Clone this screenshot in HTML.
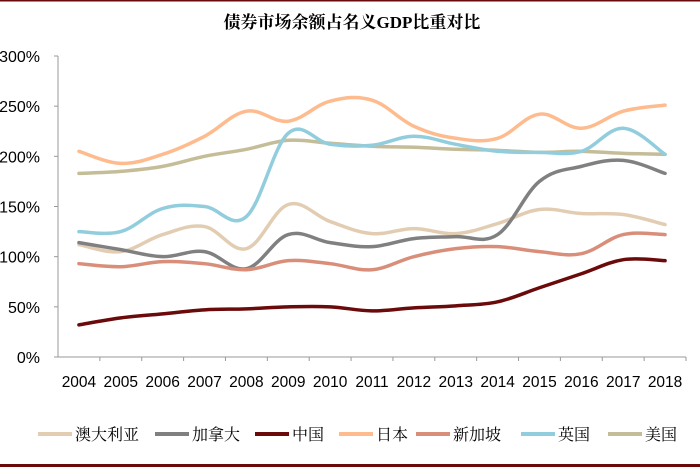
<!DOCTYPE html>
<html><head><meta charset="utf-8"><style>
body{margin:0;background:#fff;}
svg{display:block;}
text{font-family:"Liberation Sans","Noto Sans CJK SC",sans-serif;}
</style></head><body>
<svg id="chart" width="700" height="471">
<rect x="0" y="0" width="700" height="1.5" fill="#6b0a0a"/>
<rect x="0" y="464" width="700" height="3" fill="#6b0a0a"/>
<text x="352" y="28" text-anchor="middle" font-size="17" font-weight="bold" style="font-family:'Liberation Serif','Noto Serif CJK SC',serif">债券市场余额占名义GDP比重对比</text>
<g id="axes"></g><g id="series"></g><g id="legend"></g>
</svg>
<script>
const years=['2004','2005','2006','2007','2008','2009','2010','2011','2012','2013','2014','2015','2016','2017','2018'];
const yTicks=[0,50,100,150,200,250,300];
const names=['澳大利亚','加拿大','中国','日本','新加坡','英国','美国'];
const colors=['#e2cdb3','#808080','#6b0a0a','#fdbb8e','#d98e7a','#92cddd','#c4bd97'];
const australia=[112,105,122,130,108,152,135,123,128,123,133,147,143,142,132];
const canada=[114,107,100,105,88,122,114,110,118,120,122,175,190,196,183];
const china=[32,39,43,47,48,50,50,46,49,51,55,69,83,97,96];
const japan=[205,193,202,220,245,235,255,256,230,218,218,242,228,245,251];
const singapore=[93,90,95,93,87,96,93,87,100,108,110,105,103,122,122];
const uk=[125,125,148,150,140,223,212,211,220,212,205,204,205,228,202];
const us=[183,185,190,200,207,216,213,210,209,207,206,204,205,203,202];
const seriesData=[australia,canada,china,japan,singapore,uk,us];
const NS='http://www.w3.org/2000/svg';
const x0=58,x1=686,y0=357,y1=56;
const bw=(x1-x0)/years.length;
const xs=i=>x0+bw*(i+0.5);
const ys=v=>y0-(v/300)*(y0-y1);
function mk(tag,attrs,parent){const e=document.createElementNS(NS,tag);for(const k in attrs)e.setAttribute(k,attrs[k]);parent.appendChild(e);return e;}
const axes=document.getElementById('axes');
let a=mk('line',{x1:x0,y1:y1,x2:x0,y2:y0,stroke:'#999','stroke-width':1},axes);


a=mk('line',{x1:x0,y1:y0,x2:x1,y2:y0,stroke:'#999','stroke-width':1},axes);


yTicks.forEach(t=>{
 const tk=mk('line',{x1:x0-4,y1:ys(t),x2:x0,y2:ys(t),stroke:'#999'},axes);
 
 
 const l=mk('text',{x:40,y:ys(t)+6,'text-anchor':'end','font-size':16},axes);
 l.textContent=t+'%';
 
 
});
years.forEach((yv,i)=>{
 const tk=mk('line',{x1:x0+bw*(i+1),y1:y0,x2:x0+bw*(i+1),y2:y0+4,stroke:'#999'},axes);
 
 
 const l=mk('text',{x:xs(i),y:387,'text-anchor':'middle','font-size':15.5},axes);
 l.textContent=yv;
 
 
});
function path(vals){
 const p=vals.map((v,i)=>[xs(i),ys(v)]);
 let d='M'+p[0][0]+','+p[0][1];
 const t=0.18;
 for(let i=0;i<p.length-1;i++){
  const p0=p[i-1]||p[i],p1=p[i],p2=p[i+1],p3=p[i+2]||p2;
  const c1=[p1[0]+(p2[0]-p0[0])*t,p1[1]+(p2[1]-p0[1])*t];
  const c2=[p2[0]-(p3[0]-p1[0])*t,p2[1]-(p3[1]-p1[1])*t];
  d+=' C'+c1+' '+c2+' '+p2;
 }
 return d;
}
const sg=document.getElementById('series');
const order=[6,3,5,0,1,4,2];
order.forEach(k=>{
 const e=mk('path',{d:path(seriesData[k]),fill:'none',stroke:colors[k],'stroke-width':3.5,'stroke-linecap':'round'},sg);
 
 
});
const lg=document.getElementById('legend');
const lx=[38,155,255,339,416,521,608];
names.forEach((n,k)=>{
 const g=mk('g',{},lg);
 
 
 mk('line',{x1:lx[k],y1:434,x2:lx[k]+34,y2:434,stroke:colors[k],'stroke-width':4},g);
 const t=mk('text',{x:lx[k]+37,y:440,'font-size':16,style:"font-family:'Liberation Serif','Noto Serif CJK SC',serif"},g);
 t.textContent=n;
});
</script>
</body></html>
